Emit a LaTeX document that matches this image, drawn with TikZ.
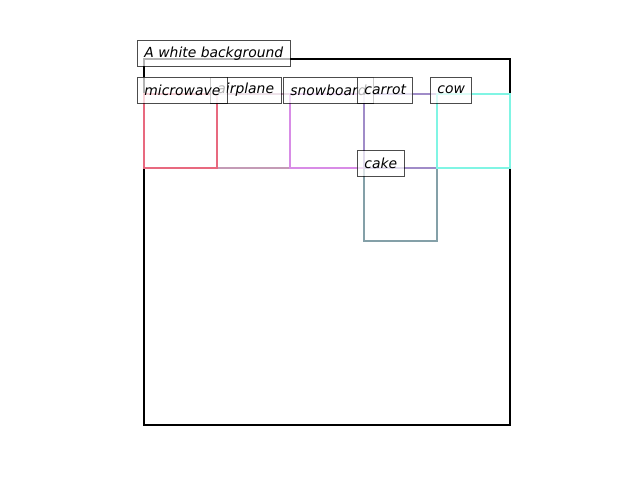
\documentclass[tikz,border=0pt]{standalone}
\usepackage{fontspec}
\setmainfont{DejaVu Sans}
\usetikzlibrary{positioning}
\definecolor{mwred}{HTML}{E8697F}
\definecolor{planemauve}{HTML}{C49BB6}
\definecolor{boardviolet}{HTML}{D88CE6}
\definecolor{carrotpurple}{HTML}{A08CC8}
\definecolor{cowcyan}{HTML}{80F5E4}
\definecolor{cakegray}{HTML}{84A0A8}
\tikzset{
  detbox/.style={draw=#1, line width=1.5pt},
  detbox/.default=black,
  lbl/.style={rectangle, draw=black, fill=white, fill opacity=0.7, draw opacity=0.7,
              text opacity=1, line width=0.7pt, anchor=west,
              inner xsep=5pt, minimum height=18.7pt, font=\itshape\fontsize{10}{12}\selectfont},
}

\begin{document}
\begin{tikzpicture}[x=0.72pt, y=-0.72pt]
  \useasboundingbox (0,0) rectangle (640,480);

  % frame of the whole image
  \draw[detbox] (144,59) rectangle (510,425);

  % detections
  \draw[detbox=planemauve] (217.2,94.4) rectangle (290.4,167.6);
  \draw[detbox=mwred] (144,94.4) rectangle (217.2,167.6);
  \draw[detbox=boardviolet] (290.4,94.4) rectangle (363.6,167.6);
  \draw[detbox=cakegray] (363.6,167.6) rectangle (436.8,240.8);
  \draw[detbox=carrotpurple] (363.6,94.4) rectangle (436.8,167.6);
  \draw[detbox=cowcyan] (436.8,94.4) rectangle (510,167.6);

  % labels
  \node[lbl] (bg) at (137,53.5) {A white background};
  \node[lbl] (airplane) at (210,90) {airplane};
  \node[lbl] (microwave) at (137,90) {microwave};
  \node[lbl] (snowboard) at (283,90) {snowboard};
  \node[lbl] (carrot) at (357,90) {carrot};
  \node[lbl] (cow) at (430,90) {cow};
  \node[lbl] (cake) at (357,163.5) {cake};
\end{tikzpicture}
\end{document}
